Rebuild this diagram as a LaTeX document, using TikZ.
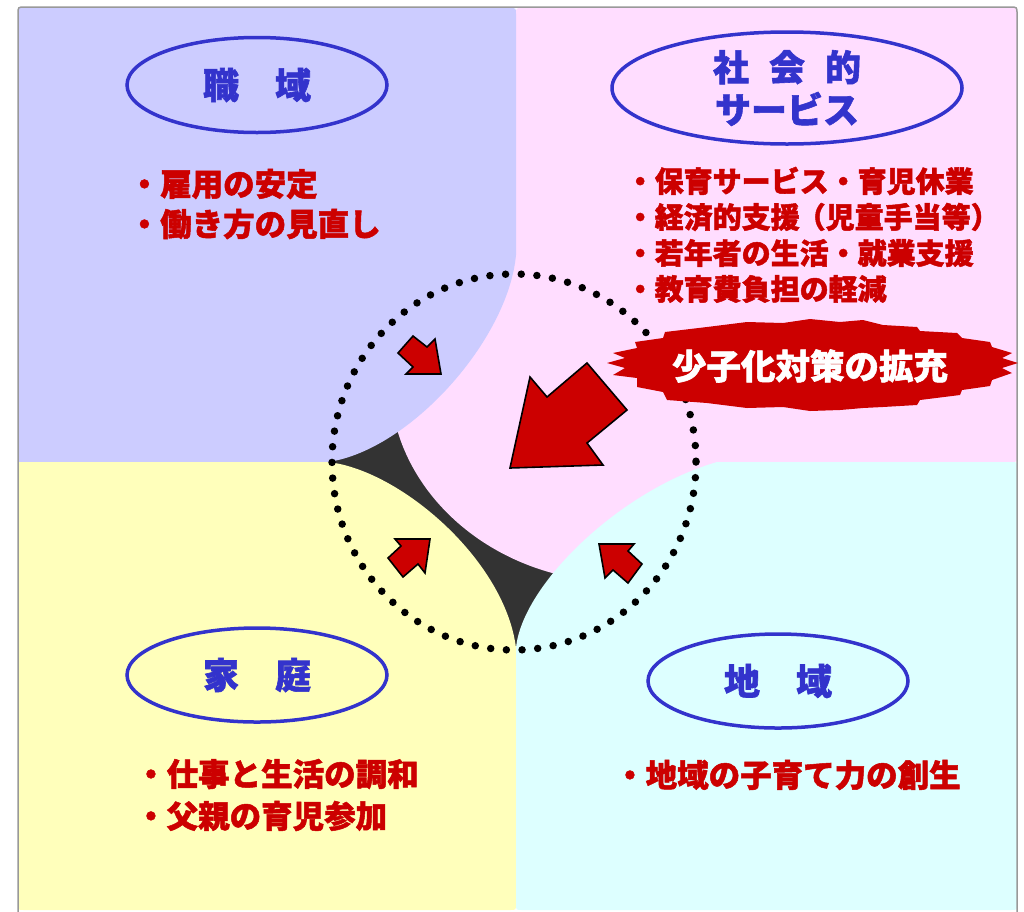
\documentclass[tikz,border=0pt]{standalone}
\usepackage{fontspec}
\newfontfamily\jp{Noto Sans CJK JP}[BoldFeatures={FakeBold=1.6}]
\usetikzlibrary{shapes.geometric}
\definecolor{lav}{HTML}{CCCCFF}
\definecolor{pinkq}{HTML}{FFDDFF}
\definecolor{yelq}{HTML}{FFFFBB}
\definecolor{cyaq}{HTML}{DDFFFF}
\definecolor{darkc}{HTML}{333333}
\definecolor{labblue}{HTML}{3333CC}
\definecolor{itemred}{HTML}{CC0000}
\definecolor{framegray}{HTML}{999999}
\tikzset{
  item/.style={anchor=west, inner sep=0pt, text=itemred, font=\jp\bfseries\fontsize{31.5}{38}\selectfont},
  pitem/.style={item, font=\jp\bfseries\fontsize{29}{36}\selectfont},
  lab/.style={draw=labblue, line width=3.5pt, ellipse, inner sep=0pt, text=labblue, align=center, font=\jp\bfseries\fontsize{36}{42.5}\selectfont},
  arrowsty/.style={fill=itemred, draw=black, line width=1.6pt, line join=miter},
  dotring/.style={draw=black, line width=7.5pt, line cap=round, dash pattern=on 0pt off 15.7pt},
}
\begin{document}
\begin{tikzpicture}[x=1pt,y=-1pt]
\useasboundingbox (0,0) rectangle (1024,911);
\clip (0,0) rectangle (1024,911);
\fill[white] (0,0) rectangle (1024,911);
% dark centre
\fill[darkc] (320,240) rectangle (725,660);
% pink (social services)
\fill[pinkq] (516,250) -- (516,14) .. controls (516,8) .. (522,8) -- (1011,8) .. controls (1017,8) .. (1017,14) -- (1017,456) .. controls (1017,462) .. (1011,462) -- (720,462) -- (720,582) -- (620,582) .. controls (493,582) and (390,490.5) .. (390,380) -- (390,250) -- cycle;
% lavender (workplace)
\fill[lav] (18,462) -- (18,14) .. controls (18,8) .. (24,8) -- (510,8) .. controls (516,8) .. (516,14) -- (516,255) .. controls (508,340) and (410,450) .. (328,462) -- cycle;
% yellow (family)
\fill[yelq] (18,462) -- (328,462) .. controls (400,470) and (505,560) .. (516,648) -- (516,904) .. controls (516,910) .. (510,910) -- (24,910) .. controls (18,910) .. (18,904) -- cycle;
% cyan (community)
\fill[cyaq] (516,648) .. controls (522,585) and (620,490) .. (717,462) -- (1011,462) .. controls (1017,462) .. (1017,468) -- (1017,904) .. controls (1017,910) .. (1011,910) -- (522,910) .. controls (516,910) .. (516,904) -- cycle;
% outer frame
\draw[framegray, line width=1.5pt] (18,930) -- (18,14) .. controls (18,7) .. (25,7) -- (1010,7) .. controls (1017,7) .. (1017,14) -- (1017,930);
% dotted ring
\draw[dotring] (514,462) ellipse [x radius=182, y radius=188];
% arrows
\draw[arrowsty] (510,468) -- (530,377) -- (547,397) -- (587,363) -- (627,410) -- (587,443) -- (603,465) -- cycle;
\draw[arrowsty] (441,374) -- (435,339) -- (427,347) -- (413,336) -- (398,353) -- (413,367) -- (406,374) -- cycle;
\draw[arrowsty] (430,539) -- (395,539) -- (401,546) -- (388,558) -- (403,577) -- (418,564) -- (425,573) -- cycle;
\draw[arrowsty] (599,544) -- (634,544) -- (628,551) -- (642,564) -- (628,583) -- (613,570) -- (605,578) -- cycle;
% banner
\fill[itemred] (607,363) -- (625,358) -- (613,353) -- (637,348) -- (635,342) -- (663,338) -- (665,332) -- (707,327) -- (747,322) -- (783,323) -- (810,319) -- (840,322) -- (863,320) -- (883,325) -- (917,327) -- (920,331) -- (957,333) -- (962,338) -- (990,342) -- (992,347) -- (1012,353) -- (1002,358) -- (1018,363) -- (1002,368) -- (1012,373) -- (992,380) -- (990,386) -- (962,390) -- (960,395) -- (920,400) -- (917,405) -- (883,407) -- (863,408) -- (840,410) -- (810,411) -- (783,407) -- (747,408) -- (707,403) -- (667,400) -- (663,392) -- (637,387) -- (637,378) -- (613,375) -- (625,368) -- cycle;
\node[inner sep=0pt, text=white, font=\jp\bfseries\fontsize{34.5}{40}\selectfont] (banner) at (810,366) {少子化対策の拡充};
% labels
\node[lab, minimum width=260pt, minimum height=95pt] (shokuiki) at (257,85) {職　域};
\node[lab, minimum width=350pt, minimum height=112pt] (shakai) at (787,88) {社\hspace{20pt}会\hspace{20pt}的\\サービス};
\node[lab, minimum width=260pt, minimum height=94pt] (katei) at (257,675) {家　庭};
\node[lab, minimum width=260pt, minimum height=94pt] (chiiki) at (778,681) {地　域};
% items
\node[item] (w1) at (128.5,184) {・雇用の安定};
\node[item] (w2) at (128.5,224) {・働き方の見直し};
\node[pitem] (s1) at (625.5,181) {・保育サービス・育児休業};
\node[pitem] (s2) at (625.5,217) {・経済的支援\kern-3pt（児童手当等）};
\node[pitem] (s3) at (625.5,253) {・若年者の生活・就業支援};
\node[pitem] (s4) at (625.5,289) {・教育費負担の軽減};
\node[item] (f1) at (135,774) {・仕事と生活の調和};
\node[item] (f2) at (135,816) {・父親の育児参加};
\node[item] (c1) at (614,775) {・地域の子育て力の創生};
\end{tikzpicture}
\end{document}
